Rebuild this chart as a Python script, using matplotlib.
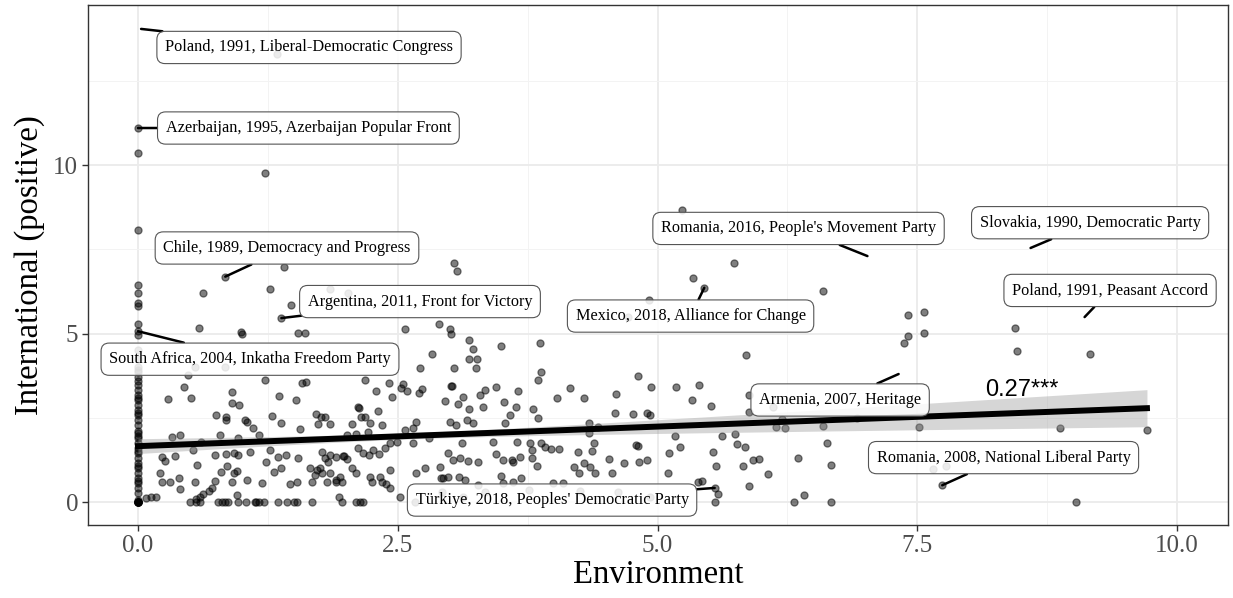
'''Environment vs international (positive) scatter with labelled parties.'''
import numpy as np
import matplotlib as mpl
mpl.use('Agg')
import matplotlib.pyplot as plt
from matplotlib.ticker import MultipleLocator

# parties that score 0 on environment
zero_env_intl = [10.36, 8.07, 6.44, 6.2, 5.9, 5.82, 5.28, 4.96, 4.51, 4.26, 4.0,
                 3.92, 3.85, 3.72, 3.6, 3.47, 3.32, 3.18, 3.1, 3.03, 2.88, 2.73,
                 2.65, 2.58, 2.43, 2.28, 2.1, 2.05, 1.97, 1.9, 1.75, 1.6, 1.52,
                 1.45, 1.31, 1.16, 1.08, 1.01, 0.86, 0.71, 0.63, 0.56, 0.42,
                 0.27, 0.06, 0, 0, 0, 0, 0, 0, 0, 0]

# (environment, international) for the rest, left part of the cloud
pts_left = [
    (0.08, 0.12), (0.13, 0.15), (0.17, 0.15),
    (0.85, 2.43), (1.05, 2.38), (1.11, 2.19), (1.16, 1.99), (1.38, 2.34),
    (1.56, 2.16), (1.73, 2.31), (1.85, 2.31), (2.06, 2.31), (2.23, 2.34),
    (2.35, 2.28), (2.68, 2.38), (2.57, 2.14), (2.65, 2.19), (2.65, 1.75),
    (2.01, 1.99), (2.1, 2.02), (2.21, 2.09), (0.33, 1.94), (0.4, 1.99),
    (0.79, 1.99), (0.96, 1.9), (0.61, 1.79), (0.23, 1.34), (0.26, 1.23),
    (0.36, 1.37), (0.53, 1.54), (0.57, 1.1), (0.74, 1.39), (0.85, 1.42),
    (0.92, 1.45), (0.96, 1.39), (0.86, 1.08), (0.92, 0.86), (0.95, 0.92),
    (0.8, 0.89), (1.08, 1.49), (1.23, 1.2), (1.27, 1.54), (1.35, 1.34),
    (1.42, 1.39), (1.54, 1.3), (1.38, 1.01), (1.31, 0.89), (1.66, 1.02),
    (1.72, 0.95), (1.75, 1.01), (1.77, 0.86), (1.7, 0.8), (1.77, 1.49),
    (1.85, 1.39), (1.8, 1.31), (1.83, 1.2), (1.91, 1.34), (1.97, 1.37),
    (1.98, 1.37), (2.01, 1.28), (1.85, 0.86), (1.94, 0.75), (1.91, 0.6),
    (1.96, 0.6), (2.06, 1.01), (2.1, 0.86), (2.12, 1.6), (2.17, 1.45),
    (2.22, 1.39), (2.26, 1.54), (2.32, 1.44), (2.38, 1.6), (2.43, 1.75),
    (2.49, 1.79), (2.23, 0.75), (2.25, 0.6), (2.33, 0.75), (2.35, 0.6),
    (2.39, 0.55), (2.43, 0.95), (2.43, 0.41), (2.68, 0.85), (2.76, 1.0),
    (0.21, 0.86), (0.23, 0.6), (0.31, 0.6), (0.39, 0.7), (0.4, 0.38),
    (0.55, 0.6), (0.74, 0.63), (0.71, 0.41), (0.68, 0.33), (0.63, 0.24),
    (0.6, 0.16), (0.56, 0.08), (0.9, 0.6), (1.05, 0.65), (1.19, 0.57),
    (0.95, 0.21), (1.46, 0.53), (1.53, 0.6), (1.67, 0.6), (1.82, 0.6),
    (1.91, 0.65), (1.93, 0.14), (1.96, 0.01), (2.52, 0.16),
    (0.5, 0), (0.56, 0), (0.6, 0), (0.77, 0), (0.81, 0), (0.84, 0),
    (0.87, 0), (0.96, 0), (1.04, 0), (1.13, 0), (1.14, 0), (1.16, 0),
    (1.21, 0), (1.35, 0), (1.43, 0), (1.5, 0), (1.53, 0), (1.67, 0),
    (2.1, 0), (2.14, 0), (2.17, 0),
    (1.41, 6.97), (0.63, 6.19), (1.27, 6.32), (1.47, 5.85), (0.59, 5.16),
    (0.99, 5.04), (1.0, 4.99), (1.54, 5.01), (1.61, 5.01), (0.55, 4.0),
    (0.84, 4.0), (0.48, 3.77), (1.22, 3.62), (1.58, 3.53), (1.62, 3.56),
    (2.18, 3.62), (0.44, 3.42), (0.9, 3.26), (2.29, 3.29), (0.29, 3.06),
    (0.51, 3.1), (0.9, 2.94), (0.97, 2.88), (1.36, 3.15), (1.52, 3.03),
    (0.75, 2.58), (0.85, 2.52), (1.03, 2.43), (1.29, 2.55), (1.71, 2.61),
    (1.76, 2.52), (1.8, 2.52), (2.12, 2.82), (2.13, 2.8), (2.15, 2.52),
    (2.18, 2.52), (2.31, 2.7), (1.85, 6.32), (2.02, 6.2), (1.22, 9.76),
    (1.34, 13.3), (2.57, 5.13), (2.71, 3.98), (2.42, 3.53), (2.55, 3.5),
    (2.53, 3.38), (2.59, 3.29), (2.44, 3.12), (2.7, 3.23), (2.73, 3.35),
]

# middle part of the cloud
pts_mid = [
    (3.04, 7.09), (3.07, 6.85), (4.92, 5.99), (4.72, 5.49), (2.9, 5.28),
    (3.0, 5.13), (3.01, 4.99), (3.19, 4.81), (3.22, 4.54), (3.19, 4.24),
    (3.26, 4.24), (3.25, 3.98), (3.04, 3.98), (3.49, 4.63), (3.87, 4.72),
    (3.88, 3.86), (3.85, 3.62), (2.83, 4.39), (3.01, 3.44), (3.02, 3.44),
    (2.95, 3.0), (3.08, 2.91), (3.13, 3.12), (3.19, 2.76), (3.29, 3.18),
    (3.34, 3.32), (3.32, 2.82), (3.45, 3.41), (3.66, 3.29), (3.52, 2.97),
    (3.64, 2.82), (3.58, 2.58), (3.53, 2.34), (3.8, 2.76), (3.85, 2.49),
    (4.03, 3.09), (4.16, 3.38), (4.29, 3.09), (4.6, 3.2), (4.59, 2.64),
    (4.76, 2.61), (4.81, 3.74), (4.9, 2.64), (4.93, 2.58), (4.94, 3.41),
    (5.18, 3.41), (3.0, 2.37), (3.06, 2.28), (3.17, 2.43), (3.22, 2.34),
    (2.8, 1.9), (3.12, 1.75), (3.42, 1.78), (3.45, 1.42), (3.51, 1.25),
    (3.6, 1.25), (3.61, 1.19), (3.68, 1.34), (3.65, 1.78), (3.77, 1.75),
    (3.79, 1.54), (3.88, 1.75), (3.92, 1.63), (3.97, 1.57), (4.05, 1.57),
    (3.79, 1.3), (3.84, 1.07), (2.98, 1.45), (3.03, 1.25), (3.1, 1.31),
    (3.18, 1.22), (3.27, 1.19), (2.91, 1.04), (2.92, 0.71), (2.98, 0.74),
    (2.94, 0.71), (3.09, 0.74), (3.15, 0.65), (3.27, 0.5), (3.49, 0.77),
    (3.51, 0.56), (3.61, 0.59), (3.69, 0.71), (4.2, 1.04), (4.24, 0.86),
    (4.29, 1.16), (4.35, 1.04), (4.4, 0.86), (4.23, 1.48), (4.37, 1.51),
    (4.39, 1.75), (4.34, 2.34), (4.43, 2.22), (4.34, 2.05), (3.99, 0.56),
    (4.09, 0.56), (4.53, 1.28), (4.56, 0.86), (4.68, 1.16), (4.82, 1.19),
    (4.9, 1.25), (4.79, 1.69), (4.81, 1.66), (5.1, 0.86), (5.11, 1.45),
    (5.17, 1.96), (2.67, 0.0), (2.93, 0.3), (3.13, 0.15), (3.34, 0.3),
    (3.76, 0.35), (4.25, 0.33), (4.62, 0.3), (4.93, 0.15),
]

# right part of the cloud
pts_right = [
    (5.24, 8.66), (5.74, 7.1), (5.34, 6.66), (6.59, 6.27), (7.41, 5.55),
    (7.56, 5.64), (7.41, 4.93), (7.56, 5.01), (7.37, 4.72), (5.85, 4.36),
    (5.4, 3.47), (5.33, 3.03), (5.51, 2.85), (5.88, 3.17), (5.88, 2.67),
    (6.11, 2.82), (6.2, 2.46), (6.14, 2.22), (6.23, 2.2), (6.59, 2.26),
    (6.92, 2.49), (7.52, 2.23), (5.22, 1.63), (5.62, 1.96), (5.75, 2.02),
    (5.76, 1.72), (5.84, 1.63), (5.53, 1.48), (5.56, 1.07), (5.82, 1.07),
    (5.92, 1.25), (5.98, 1.28), (6.06, 0.83), (5.88, 0.47), (6.63, 1.75),
    (6.35, 1.31), (6.67, 1.1), (5.39, 0.59), (5.43, 0.62), (5.58, 0.24),
    (5.55, 0.0), (6.31, 0.0), (6.41, 0.21), (6.67, 0.0), (7.65, 0.98),
    (7.78, 1.07), (8.44, 5.16), (8.46, 4.48), (9.16, 4.39), (8.87, 2.2),
    (9.71, 2.14), (8.87, 1.45), (9.03, 0.0),
]

# labelled parties
label_names = ['Poland, 1991, Liberal-Democratic Congress',
               'Azerbaijan, 1995, Azerbaijan Popular Front',
               'Chile, 1989, Democracy and Progress',
               'Argentina, 2011, Front for Victory',
               'South Africa, 2004, Inkatha Freedom Party',
               'Mexico, 2018, Alliance for Change',
               "Romania, 2016, People's Movement Party",
               'Slovakia, 1990, Democratic Party',
               'Poland, 1991, Peasant Accord',
               'Armenia, 2007, Heritage',
               'Romania, 2008, National Liberal Party',
               "Türkiye, 2018, Peoples' Democratic Party"]
label_env = [0.03, 0.0, 0.84, 1.38, 0.0, 5.45, 7.02, 8.59, 9.11, 7.32, 7.74, 5.55]
label_intl = [14.04, 11.1, 6.69, 5.46, 5.07, 6.36, 7.3, 7.54, 5.49, 3.8, 0.5, 0.42]
# some labelled observations have no visible point in the original
label_point_shown = [False, True, True, True, True, True,
                     False, False, False, False, True, True]

# label box centres (data units)
box_x = [1.646, 1.64, 1.434, 2.714, 1.078, 5.318, 6.357, 9.163, 9.355, 6.757, 8.33, 3.985]
box_y = [13.49, 11.1, 7.54, 5.95, 4.24, 5.52, 8.12, 8.29, 6.28, 3.03, 1.32, 0.06]

fit_intercept = 1.66
fit_slope = 0.116
band_half_ends = [0.22, 0.55]
coef_label = '0.27***'

SERIF = 'Liberation Serif'

env = [0.0] * len(zero_env_intl)
intl = list(zero_env_intl)
for group in (pts_left, pts_mid, pts_right):
    env += [p[0] for p in group]
    intl += [p[1] for p in group]
shown_env = [e for e, s in zip(label_env, label_point_shown) if s]
shown_intl = [v for v, s in zip(label_intl, label_point_shown) if s]
env_all = np.array(env + shown_env)
intl_all = np.array(intl + shown_intl)

# confidence band shaped like an OLS band: sqrt(a + b (x - xbar)^2)
x0, x1 = env_all.min(), env_all.max()
xbar = env_all.mean()
h0, h1 = band_half_ends
b = (h1 ** 2 - h0 ** 2) / ((x1 - xbar) ** 2 - (x0 - xbar) ** 2)
a = h0 ** 2 - b * (x0 - xbar) ** 2
xs = np.linspace(x0, x1, 200)
ys = fit_intercept + fit_slope * xs
half = np.sqrt(a + b * (xs - xbar) ** 2)

fig = plt.figure(figsize=(12.33, 5.98), dpi=100)
ax = fig.add_axes([88 / 1233, 1 - 525 / 598, 1140 / 1233, 520 / 598])

ax.scatter(env_all, intl_all, s=26, color='black', alpha=0.5,
           edgecolors='black', linewidths=0.9, zorder=3)
ax.fill_between(xs, ys - half, ys + half, color='#999999', alpha=0.4,
                linewidth=0, zorder=4)
ax.plot(xs, ys, color='black', linewidth=4.3, zorder=5)

ax.text(8.15, 3.32, coef_label, fontsize=17, family='Liberation Sans',
        va='center', ha='left', zorder=6)

for name, lx, ly, bx, by in zip(label_names, label_env, label_intl, box_x, box_y):
    ax.annotate(name, xy=(lx, ly), xytext=(bx, by), textcoords='data',
                ha='center', va='center', fontsize=11.7, family=SERIF,
                bbox=dict(boxstyle='round,pad=0.5,rounding_size=0.5',
                          fc=(1, 1, 1, 0.85), ec='#555555', lw=0.8),
                arrowprops=dict(arrowstyle='-', color='black', lw=1.8,
                                shrinkA=0, shrinkB=0),
                zorder=7)

ax.set_xlim(-0.481, 10.49)
ax.set_ylim(-0.68, 14.75)
ax.xaxis.set_minor_locator(MultipleLocator(1.25))
ax.yaxis.set_minor_locator(MultipleLocator(2.5))
ax.set_xticks([0, 2.5, 5, 7.5, 10])
ax.set_xticklabels(['0.0', '2.5', '5.0', '7.5', '10.0'])
ax.set_yticks([0, 5, 10])
ax.set_yticklabels(['0', '5', '10'])

ax.grid(which='major', color='#EBEBEB', linewidth=1.3, zorder=0)
ax.grid(which='minor', color='#F3F3F3', linewidth=0.7, zorder=0)
ax.set_axisbelow(True)
for sp in ax.spines.values():
    sp.set_color('#333333')
    sp.set_linewidth(1.0)
ax.tick_params(which='major', length=4, width=1.0, color='#333333',
               labelsize=18, labelcolor='#4D4D4D', pad=3)
ax.tick_params(which='minor', length=0)
for lab in ax.get_xticklabels() + ax.get_yticklabels():
    lab.set_family(SERIF)

ax.set_xlabel('Environment', fontsize=23.5, family=SERIF, labelpad=2)
ax.set_ylabel('International (positive)', fontsize=23.5, family=SERIF, labelpad=6)

fig.savefig('out.png', dpi=100)
